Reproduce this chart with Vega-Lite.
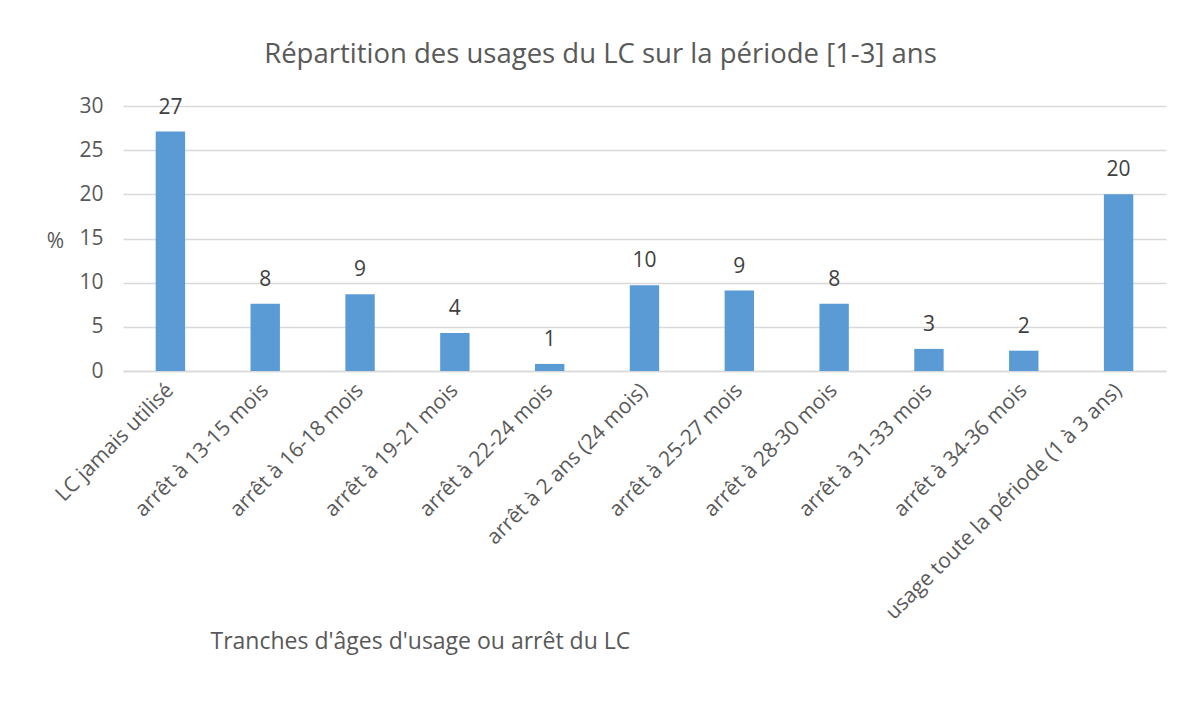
{
  "$schema": "https://vega.github.io/schema/vega-lite/v6.json",
  "width": 1043,
  "height": 265,
  "autosize": {"type": "none"},
  "padding": {"left": 123, "top": 106, "right": 15, "bottom": 330},
  "background": "white",
  "title": {
    "text": "Répartition des usages du LC sur la période [1-3] ans",
    "font": "Open Sans",
    "fontSize": 27.5,
    "fontWeight": "normal",
    "color": "#595959",
    "anchor": "middle",
    "dx": -44,
    "offset": 27
  },
  "data": {
    "values": [
      {"categorie": "LC jamais utilisé", "pct": 27.1},
      {"categorie": "arrêt à 13-15 mois", "pct": 7.6},
      {"categorie": "arrêt à 16-18 mois", "pct": 8.7},
      {"categorie": "arrêt à 19-21 mois", "pct": 4.3},
      {"categorie": "arrêt à 22-24 mois", "pct": 0.8},
      {"categorie": "arrêt à 2 ans (24 mois)", "pct": 9.7},
      {"categorie": "arrêt à 25-27 mois", "pct": 9.1},
      {"categorie": "arrêt à 28-30 mois", "pct": 7.6},
      {"categorie": "arrêt à 31-33 mois", "pct": 2.5},
      {"categorie": "arrêt à 34-36 mois", "pct": 2.3},
      {"categorie": "usage toute la période (1 à 3 ans)", "pct": 20.0}
    ]
  },
  "encoding": {
    "x": {
      "field": "categorie",
      "type": "nominal",
      "sort": null,
      "scale": {"paddingInner": 0.69, "paddingOuter": 0.345},
      "axis": {
        "title": "Tranches d'âges d'usage ou arrêt du LC",
        "titleFont": "Open Sans",
        "titleFontSize": 23,
        "titleFontWeight": "normal",
        "titleColor": "#595959",
        "titleAnchor": "start",
        "titleAlign": "left",
        "titleX": 87,
        "titleY": 277,
        "titleBaseline": "alphabetic",
        "labelAngle": -45,
        "labelAlign": "right",
        "labelBaseline": "middle",
        "labelFont": "Open Sans",
        "labelFontSize": 21,
        "labelColor": "#595959",
        "labelPadding": 16,
        "labelLimit": 400,
        "ticks": false,
        "domainColor": "#d9d9d9",
        "domainWidth": 1.5,
        "grid": false
      }
    },
    "y": {
      "field": "pct",
      "type": "quantitative",
      "scale": {"domain": [0, 30], "nice": false},
      "axis": {
        "title": "%",
        "titleAngle": 0,
        "titleFont": "Open Sans",
        "titleFontSize": 21,
        "titleFontWeight": "normal",
        "titleColor": "#595959",
        "titleX": -68,
        "titleY": 135,
        "titleAlign": "center",
        "titleBaseline": "middle",
        "values": [0, 5, 10, 15, 20, 25, 30],
        "labelFont": "Open Sans",
        "labelFontSize": 21,
        "labelColor": "#595959",
        "labelPadding": 20,
        "ticks": false,
        "domain": false,
        "gridColor": "#d9d9d9",
        "gridWidth": 1.5
      }
    }
  },
  "layer": [
    {"mark": {"type": "bar", "color": "#5b9bd5"}},
    {
      "mark": {
        "type": "text",
        "font": "Open Sans",
        "fontSize": 21,
        "color": "#404040",
        "baseline": "alphabetic",
        "dy": -18
      },
      "encoding": {"text": {"field": "pct", "type": "quantitative", "format": ".0f"}}
    }
  ],
  "config": {"view": {"stroke": null}}
}
